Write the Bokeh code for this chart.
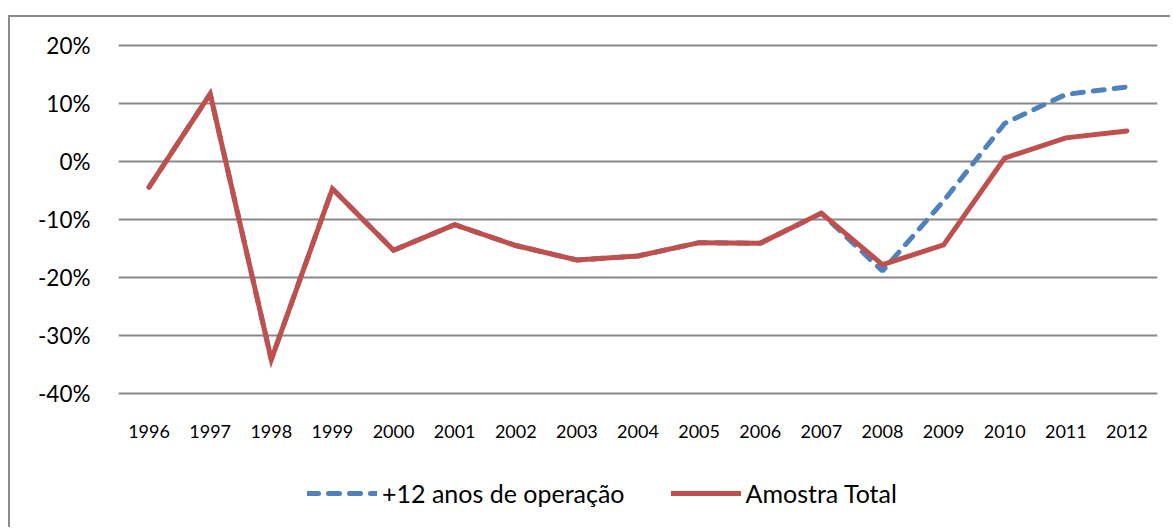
from bokeh.plotting import figure
from bokeh.layouts import column
from bokeh.models import Legend, LegendItem, FixedTicker, Range1d, FactorRange
from bokeh.embed import file_html
from bokeh.resources import INLINE

years = ["1996", "1997", "1998", "1999", "2000", "2001", "2002", "2003", "2004",
         "2005", "2006", "2007", "2008", "2009", "2010", "2011", "2012"]
amostra_total = [-4.4, 11.7, -34.2, -4.7, -15.3, -10.9, -14.5, -17.0, -16.3,
                 -14.0, -14.1, -8.9, -17.8, -14.4, 0.6, 4.1, 5.3]
mais_12_anos = [-4.4, 11.7, -34.2, -4.7, -15.3, -10.9, -14.5, -17.0, -16.3,
                -14.0, -14.1, -8.9, -18.9, -6.8, 6.6, 11.6, 12.9]
y_ticks = [-40, -30, -20, -10, 0, 10, 20]
y_tick_labels = ["-40%", "-30%", "-20%", "-10%", "0%", "10%", "20%"]
series_names = ["+12 anos de operação", "Amostra Total"]

BLUE = "#4F81BD"
RED = "#C0504D"
GRID = "#878787"
FONT = "Lato"

p = figure(x_range=years, y_range=(-40.4, 20.4), width=1160, height=440,
           output_backend="svg", toolbar_location=None,
           min_border_left=108, min_border_right=13, min_border_top=26, min_border_bottom=62)
p.outline_line_color = None
p.x_range.range_padding = 0

p.yaxis.ticker = FixedTicker(ticks=y_ticks)
p.yaxis.major_label_overrides = {t: l for t, l in zip(y_ticks, y_tick_labels)}
for ax in (p.xaxis[0], p.yaxis[0]):
    ax.axis_line_color = None
    ax.major_tick_line_color = None
    ax.minor_tick_line_color = None
    ax.major_label_text_font = FONT
    ax.major_label_text_color = "#000000"
p.yaxis.major_label_text_font_size = "22.5px"
p.yaxis.major_label_standoff = 22
p.xaxis.major_label_text_font_size = "18px"
p.xaxis.major_label_standoff = 23

p.xgrid.grid_line_color = None
p.ygrid.grid_line_color = GRID
p.ygrid.grid_line_width = 2

line_styles = [dict(line_color=BLUE, line_width=5, line_dash="11 10", line_cap="round"),
               dict(line_color=RED, line_width=5, line_cap="round", line_join="miter")]

p.line(years, mais_12_anos, **line_styles[0])
p.line(years, amostra_total, **line_styles[1])

# legend strip below the chart (same series, drawn outside its visible y range)
p2 = figure(width=1160, height=70, x_range=FactorRange(*years), y_range=Range1d(100, 101),
            x_axis_type=None, y_axis_type=None, output_backend="svg",
            toolbar_location=None, min_border=0)
p2.outline_line_color = None
p2.xgrid.visible = False
p2.ygrid.visible = False
k_blue = p2.line(years, mais_12_anos, **line_styles[0])
k_red = p2.line(years, amostra_total, **line_styles[1])

legend = Legend(items=[LegendItem(label=series_names[0], renderers=[k_blue]),
                       LegendItem(label=series_names[1], renderers=[k_red])],
                orientation="horizontal", location=(189, 19),
                glyph_width=70, glyph_height=20, label_standoff=5, spacing=46,
                label_text_font=FONT, label_text_font_size="25px",
                label_text_color="#000000",
                border_line_color=None, background_fill_alpha=0, padding=3, margin=0)
p2.add_layout(legend, "center")

layout = column(p, p2, spacing=0,
                styles={"border-left": "2px solid #8c8c8c", "border-top": "2px solid #8c8c8c",
                        "margin-top": "15px", "margin-left": "8px"})

open("out.html", "w").write(file_html(layout, INLINE))
